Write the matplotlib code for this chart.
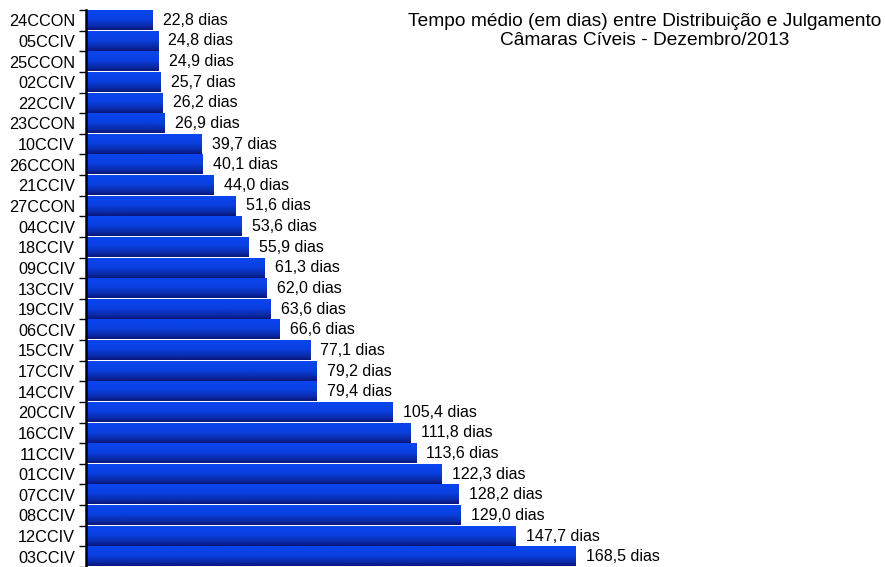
import numpy as np
import matplotlib
matplotlib.use("Agg")
import matplotlib.pyplot as plt
from matplotlib.colors import LinearSegmentedColormap

plt.rcParams['font.family'] = ['Liberation Sans', 'DejaVu Sans']

camaras = ["24CCON", "05CCIV", "25CCON", "02CCIV", "22CCIV", "23CCON", "10CCIV",
           "26CCON", "21CCIV", "27CCON", "04CCIV", "18CCIV", "09CCIV", "13CCIV",
           "19CCIV", "06CCIV", "15CCIV", "17CCIV", "14CCIV", "20CCIV", "16CCIV",
           "11CCIV", "01CCIV", "07CCIV", "08CCIV", "12CCIV", "03CCIV"]
dias = [22.8, 24.8, 24.9, 25.7, 26.2, 26.9, 39.7, 40.1, 44.0, 51.6, 53.6, 55.9,
        61.3, 62.0, 63.6, 66.6, 77.1, 79.2, 79.4, 105.4, 111.8, 113.6, 122.3,
        128.2, 129.0, 147.7, 168.5]

# gradiente vertical das barras: azul claro em cima, azul escuro embaixo
cmap = LinearSegmentedColormap.from_list(
    "barra", [(0.0, "#0a45f0"), (0.45, "#0a40e0"), (0.8, "#0a2aa8"), (1.0, "#0a167a")])
grad = np.linspace(0, 1, 64).reshape(-1, 1)

fig = plt.figure(figsize=(8.85, 5.67), dpi=100)
ax = fig.add_axes([86 / 885, 0.0, 1 - 86 / 885, 1 - 10 / 567])

h = 0.47
for i, (nome, v) in enumerate(zip(camaras, dias)):
    ax.imshow(grad, cmap=cmap, aspect="auto", extent=[0, v, i + h, i - h],
              interpolation="bilinear", zorder=2)
    rotulo = f"{v:.1f}".replace(".", ",") + " dias"
    ax.annotate(rotulo, (v, i), xytext=(7.5, 0), textcoords="offset points",
                va="center", ha="left", fontsize=11.5)

ax.set_xlim(0, 275)
ax.set_ylim(len(camaras) - 0.5, -0.5)
ax.set_yticks(np.arange(len(camaras)))
ax.set_yticklabels(camaras, fontsize=11.7)
ax.set_yticks(np.arange(len(camaras) + 1) - 0.5, minor=True)
ax.tick_params(axis="y", which="major", length=0, pad=8)
ax.tick_params(axis="y", which="minor", length=5, width=1, direction="out")
ax.set_xticks([])
for lado in ["top", "right", "bottom"]:
    ax.spines[lado].set_visible(False)
ax.spines["left"].set_linewidth(1.8)

fig.text(0.728, 0.977, "Tempo médio (em dias) entre Distribuição e Julgamento\n"
         "Câmaras Cíveis - Dezembro/2013", ha="center", va="top", fontsize=13.8,
         linespacing=1.15)

fig.savefig("out.png", dpi=100)
